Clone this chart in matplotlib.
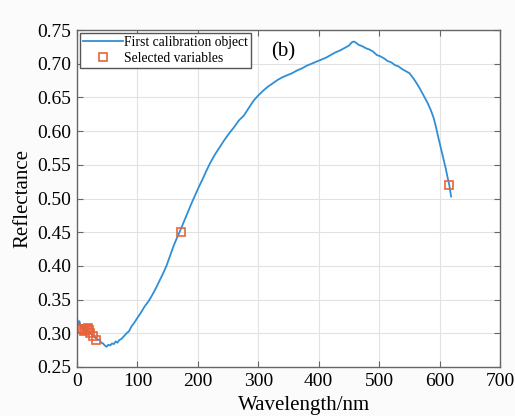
import matplotlib
matplotlib.use("Agg")
import matplotlib.pyplot as plt

wavelength = [0, 2, 4, 6, 8, 10, 12, 14, 16, 18, 20, 22, 25, 28, 31, 34, 37, 40, 43, 46, 49,
              52, 55, 58, 61, 64, 67, 70, 74, 78, 82, 86, 90, 95, 100, 106, 112, 118, 124,
              130, 136, 142, 148, 154, 160, 166, 172, 178, 184, 190, 196, 202, 208, 214, 220,
              228, 236, 244, 252, 260, 268, 276, 284, 292, 300, 308, 316, 324, 332, 340, 348,
              356, 364, 372, 380, 388, 396, 404, 412, 420, 428, 436, 444, 450, 455, 458, 462,
              466, 472, 478, 484, 490, 496, 502, 508, 514, 520, 526, 532, 538, 544, 550, 556,
              562, 568, 574, 580, 585, 590, 594, 598, 602, 606, 610, 613, 616, 619]
reflectance = [0.322, 0.315, 0.318, 0.310, 0.309, 0.305, 0.307, 0.303, 0.306, 0.301, 0.300,
               0.302, 0.297, 0.295, 0.293, 0.290, 0.291, 0.286, 0.285, 0.282, 0.280, 0.283,
               0.282, 0.285, 0.284, 0.288, 0.286, 0.290, 0.292, 0.296, 0.300, 0.303, 0.310,
               0.316, 0.323, 0.331, 0.340, 0.347, 0.356, 0.366, 0.377, 0.388, 0.400, 0.415,
               0.430, 0.443, 0.455, 0.468, 0.481, 0.494, 0.506, 0.518, 0.529, 0.541, 0.552,
               0.565, 0.576, 0.587, 0.597, 0.606, 0.616, 0.623, 0.634, 0.645, 0.653, 0.660,
               0.666, 0.671, 0.676, 0.680, 0.683, 0.686, 0.690, 0.693, 0.697, 0.700, 0.703,
               0.706, 0.709, 0.713, 0.717, 0.720, 0.724, 0.727, 0.732, 0.733, 0.731, 0.728,
               0.726, 0.723, 0.721, 0.718, 0.713, 0.711, 0.708, 0.704, 0.702, 0.698, 0.696,
               0.692, 0.689, 0.686, 0.679, 0.671, 0.662, 0.652, 0.642, 0.632, 0.620, 0.606,
               0.590, 0.575, 0.560, 0.545, 0.532, 0.520, 0.503]

sel_wavelength = [3, 8, 11, 14, 16, 18, 20, 22, 26, 32, 172, 616]
sel_reflectance = [0.307, 0.306, 0.303, 0.305, 0.307, 0.308, 0.305, 0.300, 0.296, 0.290, 0.450, 0.520]

xticks = [0, 100, 200, 300, 400, 500, 600, 700]
yticks = [0.25, 0.30, 0.35, 0.40, 0.45, 0.50, 0.55, 0.60, 0.65, 0.70, 0.75]

plt.rcParams['font.family'] = ['Liberation Serif', 'DejaVu Serif']

fig = plt.figure(figsize=(5.15, 4.16), dpi=100, facecolor='#fbfbfb')
ax = fig.add_axes([0.1495, 0.1178, 0.8215, 0.810])
ax.set_facecolor('white')

ax.plot(wavelength, reflectance, color='#2f8fd6', lw=1.3, label='First calibration object')
ax.plot(sel_wavelength, sel_reflectance, ls='none', marker='s', ms=5.5, mfc='none',
        mec='#e8643a', mew=1.2, label='Selected variables')

ax.set_xlim(0, 700)
ax.set_ylim(0.25, 0.75)
ax.set_xticks(xticks)
ax.set_yticks(yticks)
ax.set_yticklabels([f"{v:.2f}" for v in yticks])
ax.grid(True, color='#e2e2e2', lw=0.8)
ax.set_axisbelow(True)
ax.tick_params(direction='in', top=True, right=True, labelsize=14, length=4,
               color='#666666', pad=4)
for s in ax.spines.values():
    s.set_color('#666666')
    s.set_linewidth(1.0)

ax.set_xlabel('Wavelength/nm', fontsize=15)
ax.xaxis.set_label_coords(0.537, -0.085)
ax.set_ylabel('Reflectance', fontsize=15, labelpad=4)

ax.text(322, 0.711, '(b)', fontsize=15)

leg = ax.legend(loc='upper left', fontsize=9.8, frameon=True, fancybox=False,
                borderaxespad=0.25, handlelength=2.9, borderpad=0.2, labelspacing=0.2,
                handletextpad=0.1)
leg.get_frame().set_edgecolor('#555555')
leg.get_frame().set_linewidth(1.0)
leg.get_frame().set_alpha(1)

fig.savefig('out.png', dpi=100, facecolor=fig.get_facecolor())
